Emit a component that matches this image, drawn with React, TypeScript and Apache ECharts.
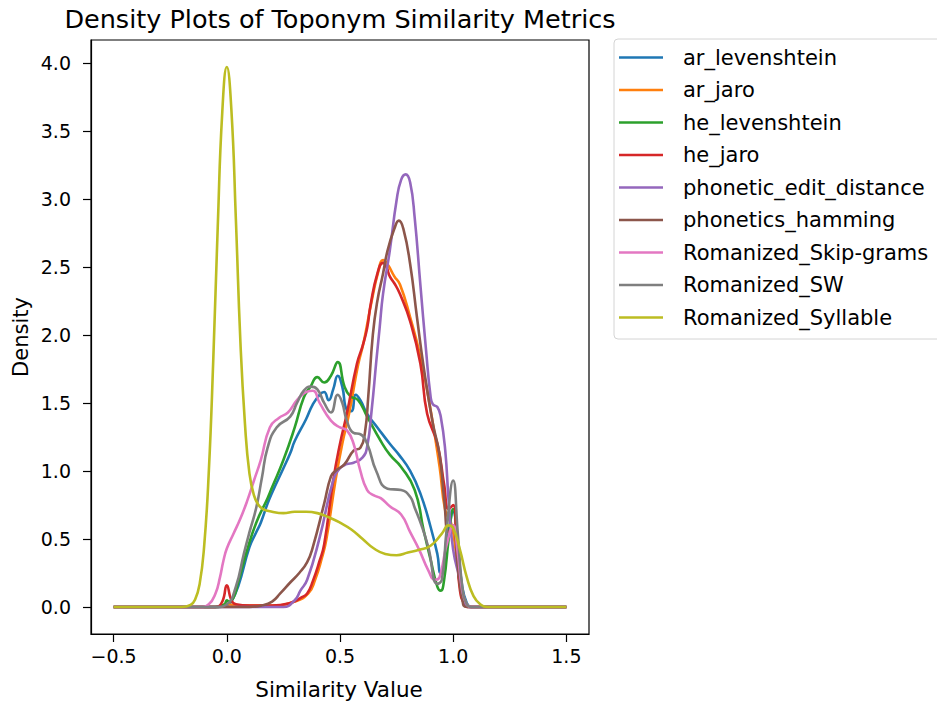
import React, { useEffect, useRef } from "react";
import * as echarts from "echarts";

const seriesNames = [
  "ar_levenshtein",
  "ar_jaro",
  "he_levenshtein",
  "he_jaro",
  "phonetic_edit_distance",
  "phonetics_hamming",
  "Romanized_Skip-grams",
  "Romanized_SW",
  "Romanized_Syllable",
];

const colors = ["#1f77b4", "#ff7f0e", "#2ca02c", "#d62728", "#9467bd", "#8c564b", "#e377c2", "#7f7f7f", "#bcbd22"];

const xTicks = [-0.5, 0, 0.5, 1.0, 1.5];
const yTicks = [0, 0.5, 1.0, 1.5, 2.0, 2.5, 3.0, 3.5, 4.0];

const arLevenshtein = [
  [-0.5, 0], [-0.05, 0], [0, 0.01], [0.02, 0.04], [0.05, 0.15], [0.1, 0.44], [0.13, 0.55], [0.15, 0.62],
  [0.18, 0.76], [0.2, 0.84], [0.25, 1.02], [0.28, 1.13], [0.3, 1.22], [0.35, 1.38], [0.38, 1.49], [0.41, 1.56],
  [0.43, 1.58], [0.45, 1.52], [0.47, 1.6], [0.49, 1.7], [0.51, 1.62], [0.53, 1.45], [0.55, 1.44], [0.57, 1.56],
  [0.59, 1.52], [0.62, 1.42], [0.665, 1.32], [0.72, 1.2], [0.76, 1.12], [0.81, 1.0], [0.856, 0.83], [0.9, 0.59],
  [0.93, 0.39], [0.945, 0.25], [0.96, 0.3], [0.98, 0.55], [1.0, 0.7], [1.02, 0.45], [1.04, 0.15], [1.06, 0.03],
  [1.08, 0], [1.5, 0],
];

const arJaro = [
  [-0.5, 0], [-0.05, 0], [0, 0.02], [0.05, 0.01], [0.2, 0.01], [0.3, 0.04], [0.36, 0.1], [0.39, 0.2],
  [0.42, 0.36], [0.44, 0.5], [0.48, 0.93], [0.51, 1.2], [0.54, 1.42], [0.58, 1.78], [0.605, 1.95], [0.64, 2.25],
  [0.67, 2.47], [0.69, 2.55], [0.71, 2.52], [0.74, 2.43], [0.765, 2.37], [0.81, 2.13], [0.855, 1.84], [0.9, 1.45],
  [0.94, 1.03], [0.965, 0.71], [0.99, 0.62], [1.0, 0.55], [1.02, 0.3], [1.04, 0.08], [1.06, 0.01], [1.08, 0],
  [1.5, 0],
];

const heLevenshtein = [
  [-0.5, 0], [-0.05, 0], [-0.01, 0.02], [0, 0.05], [0.01, 0.04], [0.03, 0.07], [0.05, 0.18], [0.09, 0.42],
  [0.13, 0.62], [0.18, 0.8], [0.2, 0.88], [0.25, 1.08], [0.3, 1.32], [0.34, 1.54], [0.37, 1.62], [0.4, 1.69],
  [0.43, 1.65], [0.46, 1.7], [0.49, 1.8], [0.52, 1.62], [0.545, 1.55], [0.58, 1.52], [0.62, 1.4], [0.68, 1.22],
  [0.72, 1.12], [0.77, 1.03], [0.83, 0.86], [0.87, 0.56], [0.9, 0.35], [0.93, 0.15], [0.945, 0.12], [0.96, 0.2],
  [0.98, 0.5], [1.0, 0.72], [1.02, 0.45], [1.04, 0.12], [1.06, 0.02], [1.08, 0], [1.5, 0],
];

const heJaro = [
  [-0.5, 0], [-0.05, 0], [-0.02, 0.04], [0, 0.16], [0.02, 0.05], [0.04, 0.02], [0.1, 0.01], [0.2, 0.01],
  [0.28, 0.03], [0.33, 0.07], [0.355, 0.1], [0.38, 0.19], [0.41, 0.34], [0.43, 0.46], [0.47, 0.93], [0.5, 1.2],
  [0.53, 1.42], [0.575, 1.79], [0.6, 1.92], [0.62, 2.05], [0.635, 2.22], [0.665, 2.45], [0.69, 2.53], [0.705, 2.5],
  [0.72, 2.43], [0.74, 2.38], [0.765, 2.3], [0.81, 2.1], [0.855, 1.79], [0.885, 1.42], [0.93, 1.2], [0.96, 0.9],
  [0.98, 0.72], [1.0, 0.75], [1.015, 0.45], [1.03, 0.12], [1.05, 0.02], [1.07, 0], [1.5, 0],
];

const phoneticEditDistance = [
  [-0.5, 0], [0.25, 0], [0.3, 0.05], [0.325, 0.12], [0.355, 0.2], [0.41, 0.51], [0.47, 0.93], [0.5, 1.02],
  [0.53, 1.05], [0.56, 1.06], [0.6, 1.1], [0.62, 1.18], [0.64, 1.45], [0.66, 1.8], [0.675, 2.05], [0.69, 2.3],
  [0.72, 2.62], [0.75, 2.99], [0.77, 3.14], [0.79, 3.18], [0.81, 3.12], [0.83, 2.86], [0.855, 2.37], [0.88, 1.89],
  [0.9, 1.55], [0.91, 1.49], [0.93, 1.47], [0.945, 1.4], [0.965, 1.15], [0.98, 0.78], [1.0, 0.42], [1.03, 0.2],
  [1.05, 0.05], [1.07, 0], [1.5, 0],
];

const phoneticsHamming = [
  [-0.5, 0], [0.1, 0], [0.15, 0.01], [0.2, 0.04], [0.236, 0.1], [0.28, 0.18], [0.32, 0.25], [0.355, 0.33],
  [0.38, 0.44], [0.43, 0.76], [0.46, 0.96], [0.48, 1.0], [0.52, 1.05], [0.56, 1.15], [0.59, 1.17], [0.61, 1.28],
  [0.625, 1.55], [0.645, 2.0], [0.665, 2.25], [0.69, 2.45], [0.71, 2.62], [0.74, 2.78], [0.76, 2.84], [0.78, 2.78],
  [0.81, 2.52], [0.84, 2.13], [0.87, 1.76], [0.91, 1.35], [0.94, 1.12], [0.96, 0.8], [0.98, 0.55], [1.0, 0.6],
  [1.02, 0.3], [1.04, 0.06], [1.06, 0], [1.5, 0],
];

const romanizedSkipGrams = [
  [-0.5, 0], [-0.12, 0], [-0.08, 0.02], [-0.05, 0.1], [-0.03, 0.22], [-0.015, 0.34], [0, 0.43], [0.03, 0.54],
  [0.06, 0.65], [0.09, 0.78], [0.12, 0.93], [0.15, 1.08], [0.19, 1.32], [0.23, 1.39], [0.27, 1.43], [0.31, 1.52],
  [0.35, 1.58], [0.38, 1.59], [0.41, 1.5], [0.46, 1.37], [0.5, 1.32], [0.53, 1.3], [0.56, 1.2], [0.59, 1.0],
  [0.62, 0.86], [0.65, 0.82], [0.68, 0.8], [0.72, 0.74], [0.77, 0.68], [0.81, 0.55], [0.85, 0.42], [0.89, 0.27],
  [0.92, 0.2], [0.94, 0.22], [0.97, 0.45], [1.0, 0.6], [1.02, 0.4], [1.04, 0.12], [1.06, 0.02], [1.08, 0], [1.5, 0],
];

const romanizedSW = [
  [-0.5, 0], [-0.05, 0], [0, 0.02], [0.04, 0.15], [0.075, 0.39], [0.1, 0.55], [0.13, 0.73], [0.155, 0.95],
  [0.18, 1.17], [0.22, 1.32], [0.28, 1.4], [0.31, 1.5], [0.34, 1.59], [0.37, 1.62], [0.4, 1.6], [0.43, 1.5],
  [0.46, 1.43], [0.49, 1.56], [0.51, 1.5], [0.53, 1.37], [0.56, 1.28], [0.59, 1.27], [0.62, 1.2], [0.66, 1.0],
  [0.71, 0.87], [0.77, 0.86], [0.81, 0.81], [0.83, 0.73], [0.86, 0.6], [0.89, 0.44], [0.93, 0.17], [0.95, 0.2],
  [0.97, 0.55], [1.0, 0.93], [1.02, 0.55], [1.04, 0.15], [1.06, 0.02], [1.08, 0], [1.5, 0],
];

const romanizedSyllable = [
  [-0.5, 0], [-0.2, 0], [-0.16, 0.015], [-0.14, 0.055], [-0.12, 0.17], [-0.1, 0.45], [-0.08, 0.98], [-0.06, 1.81],
  [-0.04, 2.8], [-0.02, 3.64], [0, 3.97], [0.02, 3.66], [0.04, 2.85], [0.06, 1.95], [0.08, 1.35], [0.1, 0.98],
  [0.12, 0.82], [0.14, 0.75], [0.16, 0.72], [0.2, 0.7], [0.25, 0.69], [0.3, 0.7], [0.35, 0.7], [0.4, 0.69],
  [0.45, 0.66], [0.5, 0.62], [0.55, 0.57], [0.6, 0.5], [0.65, 0.43], [0.7, 0.39], [0.75, 0.38], [0.8, 0.4],
  [0.85, 0.42], [0.9, 0.45], [0.95, 0.54], [0.98, 0.6], [1.0, 0.58], [1.03, 0.42], [1.06, 0.22], [1.09, 0.08],
  [1.12, 0.02], [1.15, 0], [1.5, 0],
];

const allData = [
  arLevenshtein, arJaro, heLevenshtein, heJaro, phoneticEditDistance,
  phoneticsHamming, romanizedSkipGrams, romanizedSW, romanizedSyllable,
];

const FONT = "DejaVu Sans";

const fmt = (v: number) => (v < 0 ? "\u2212" + Math.abs(v).toFixed(1) : v.toFixed(1));

export default function App() {
  const ref = useRef<HTMLDivElement>(null);
  useEffect(() => {
    if (!ref.current) return;
    const chart = echarts.init(ref.current, null, { renderer: "svg" });
    chart.setOption({
      animation: false,
      backgroundColor: "#ffffff",
      textStyle: { fontFamily: FONT },
      grid: {
        left: 91, top: 40, width: 498, height: 594,
        show: true, borderColor: "#000", borderWidth: 1.2, backgroundColor: "transparent",
        containLabel: false,
      },
      xAxis: {
        type: "value", min: -0.6, max: 1.6,
        splitLine: { show: false },
        axisLine: { show: true, onZero: false, lineStyle: { color: "#000", width: 1.2 } },
        axisTick: { show: true, length: 8, lineStyle: { color: "#000", width: 1.2 }, customValues: xTicks },
        axisLabel: { customValues: xTicks, formatter: fmt, fontSize: 19, color: "#000", margin: 12, fontFamily: FONT },
      },
      yAxis: {
        type: "value", min: -0.1985, max: 4.168,
        splitLine: { show: false },
        axisLine: { show: true, onZero: false, lineStyle: { color: "#000", width: 1.2 } },
        axisTick: { show: true, length: 8, lineStyle: { color: "#000", width: 1.2 }, customValues: yTicks },
        axisLabel: { customValues: yTicks, formatter: fmt, fontSize: 19, color: "#000", margin: 20, fontFamily: FONT },
      },
      legend: {
        orient: "vertical",
        left: 614, top: 39,
        padding: [8, 40, 11, 5],
        itemGap: 11.5,
        itemWidth: 44, itemHeight: 2.6,
        icon: "rect",
        backgroundColor: "#fff",
        borderColor: "#d4d4d4", borderWidth: 1, borderRadius: 4,
        textStyle: { fontSize: 21, lineHeight: 20, color: "#000", fontFamily: FONT, padding: [0, 0, 0, 15] },
        data: seriesNames,
      },
      graphic: [
        { type: "text", x: 340, y: 19, style: { text: "Density Plots of Toponym Similarity Metrics", fontSize: 25.5, fontFamily: FONT, fill: "#000", textAlign: "center", textVerticalAlign: "middle" } },
        { type: "text", x: 339, y: 689, style: { text: "Similarity Value", fontSize: 21.5, fontFamily: FONT, fill: "#000", textAlign: "center", textVerticalAlign: "middle" } },
        { type: "text", x: 21, y: 337, rotation: Math.PI / 2, style: { text: "Density", fontSize: 21, fontFamily: FONT, fill: "#000", textAlign: "center", textVerticalAlign: "middle" } },
      ],
      series: seriesNames.map((name, i) => ({
        name,
        type: "line",
        data: allData[i],
        showSymbol: false,
        symbol: "none",
        smooth: 0.5,
        clip: true,
        color: colors[i],
        lineStyle: { width: 2.6, color: colors[i] },
      })),
    });
    return () => chart.dispose();
  }, []);
  return <div ref={ref} style={{ position: "absolute", left: 0, top: 0, width: 937, height: 706 }} />;
}
